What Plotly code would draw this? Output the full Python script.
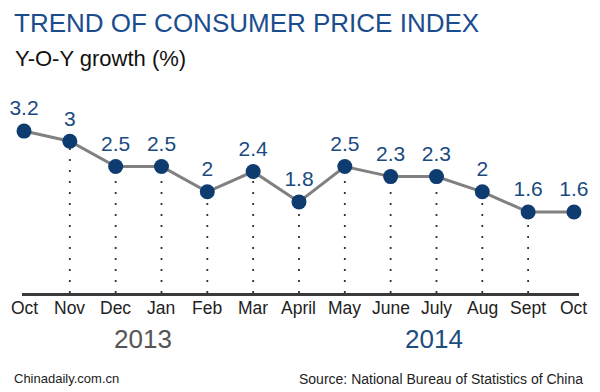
import plotly.graph_objects as go

months = ["Oct", "Nov", "Dec", "Jan", "Feb", "Mar", "April", "May", "June", "July", "Aug", "Sept", "Oct"]
cpi = [3.2, 3.0, 2.5, 2.5, 2.0, 2.4, 1.8, 2.5, 2.3, 2.3, 2.0, 1.6, 1.6]
labels = ["3.2", "3", "2.5", "2.5", "2", "2.4", "1.8", "2.5", "2.3", "2.3", "2", "1.6", "1.6"]
years = ["2013", "2014"]

# The page body has an 8px margin, so the figure is drawn 8px smaller and
# all reference pixel positions are shifted by OFF.
OFF = 8
W, H = 600 - OFF, 392 - OFF

# reference-space geometry
REF_LEFT, REF_RIGHT, REF_BASE, REF_TOP = 22, 579, 293, 80
FIRST_X = 24
PX_PER_UNIT_Y = 50.6
PX_PER_CAT = 45.83

ML = REF_LEFT - OFF
MR = (600 - REF_RIGHT)
MT = REF_TOP - OFF
MB = 392 - REF_BASE

FONT = "Liberation Sans, Arial, sans-serif"
BLUE = "#1a4a80"
MARK = "#0e3c70"

xs = list(range(len(months)))

fig = go.Figure()

# dotted drop lines (skip first and last point)
for i in xs[1:-1]:
    fig.add_trace(go.Scatter(
        x=[i, i], y=[0, cpi[i]], mode="lines",
        line=dict(color="#333333", width=1.8, dash="2px,9px"),
        hoverinfo="skip", showlegend=False))

fig.add_trace(go.Scatter(
    x=xs, y=cpi, mode="lines+markers+text",
    text=labels, textposition="top center",
    textfont=dict(family=FONT, size=21, color=BLUE),
    line=dict(color="#808080", width=3),
    marker=dict(color=MARK, size=15),
    cliponaxis=False, showlegend=False))

plot_h = H - MT - MB
plot_w = W - ML - MR
xr = [(REF_LEFT - FIRST_X) / PX_PER_CAT, (REF_RIGHT - FIRST_X) / PX_PER_CAT]
yr = [0, plot_h / PX_PER_UNIT_Y]


def px(xp):
    return (xp - REF_LEFT) / plot_w


def py(yp):
    return (REF_BASE - yp) / plot_h


annos = [
    dict(text="TREND OF CONSUMER PRICE INDEX", x=px(12), y=py(23), xanchor="left", yanchor="middle",
         font=dict(family=FONT, size=26, color="#1b4d8e")),
    dict(text="Y-O-Y growth (%)", x=px(13), y=py(58), xanchor="left", yanchor="middle",
         font=dict(family=FONT, size=22, color="#111111")),
    dict(text=years[0], x=px(143), y=py(339), xanchor="center", yanchor="middle",
         font=dict(family=FONT, size=26, color="#555555")),
    dict(text=years[1], x=px(434), y=py(339), xanchor="center", yanchor="middle",
         font=dict(family=FONT, size=26, color="#1d4e80")),
    dict(text="Chinadaily.com.cn", x=px(12), y=py(378), xanchor="left", yanchor="middle",
         font=dict(family=FONT, size=13, color="#222222")),
    dict(text="Source: National Bureau of Statistics of China", x=px(585), y=py(379),
         xanchor="right", yanchor="middle",
         font=dict(family=FONT, size=14, color="#222222")),
]
for a in annos:
    a.update(xref="paper", yref="paper", showarrow=False)

# month labels under the baseline
for i, m in zip(xs, months):
    annos.append(dict(text=m, x=i, xref="x", y=py(308), yref="paper", xanchor="center",
                      yanchor="middle", showarrow=False,
                      font=dict(family=FONT, size=17.5, color="#222222")))

fig.update_layout(
    width=W, height=H,
    margin=dict(l=ML, r=MR, t=MT, b=MB, pad=0),
    paper_bgcolor="white", plot_bgcolor="white",
    annotations=annos,
    xaxis=dict(range=xr, showticklabels=False,
               showgrid=False, zeroline=False, showline=True, linecolor="#3a3a3a", linewidth=3,
               ticks="", fixedrange=True),
    yaxis=dict(range=yr, visible=False, showgrid=False, zeroline=False, fixedrange=True),
)

fig.write_html("out.html")
